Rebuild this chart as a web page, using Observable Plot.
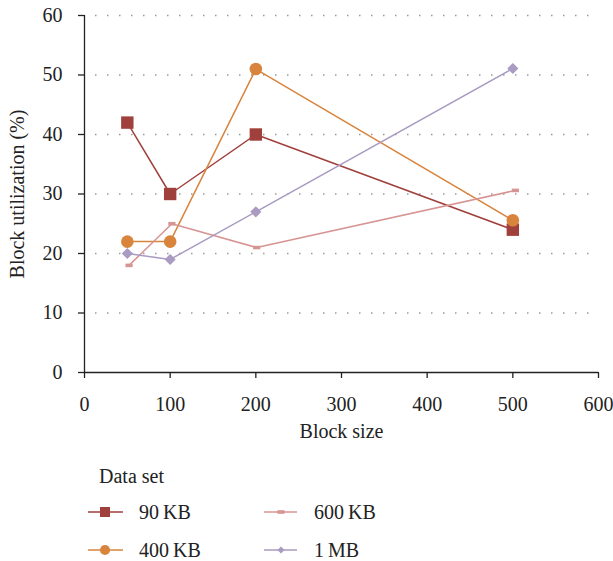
<!DOCTYPE html>
<html><head><meta charset="utf-8">
<script src="https://cdn.jsdelivr.net/npm/d3@7"></script>
<script src="https://cdn.jsdelivr.net/npm/@observablehq/plot@0.6"></script>
<style>body{margin:0;background:#fff;} svg{display:block}</style>
</head><body><div id="chart"></div><script>
const blockSizes = [50, 100, 200, 500];
const blockSizes600KB = [52, 102, 201, 503];
const seriesNames = ["90\u2009KB", "400\u2009KB", "600\u2009KB", "1\u2009MB"];
const util90KB = [42, 30, 40, 24];
const util400KB = [22, 22, 51, 25.6];
const util600KB = [18, 25, 21, 30.6];
const util1MB = [20, 19, 27, 51.1];
const seriesColors = ["#a0403d", "#d8843c", "#d69593", "#a99bc1"];
const xTicks = [0, 100, 200, 300, 400, 500, 600];
const yTicks = [0, 10, 20, 30, 40, 50, 60];
const gridTicks = [10, 20, 30, 40, 50, 60];
const xLabel = "Block size";
const yLabel = "Block utilization (%)";
const legendTitle = "Data set";

const dashSymbol = {draw(ctx, size) { const w = 3.6, h = 1.8; ctx.moveTo(-w, -h); ctx.lineTo(w, -h); ctx.lineTo(w, h); ctx.lineTo(-w, h); ctx.closePath(); }};
const seriesSymbols = [d3.symbolSquare, d3.symbolCircle, dashSymbol, d3.symbolDiamond2];
const plotRadius = [7, 6.3, 3, 5];

const seriesX = [blockSizes, blockSizes, blockSizes600KB, blockSizes];
const seriesY = [util90KB, util400KB, util600KB, util1MB];
const rows = [];
seriesNames.forEach((s, i) => seriesY[i].forEach((v, j) => rows.push({series: s, x: seriesX[i][j], y: v})));

const font = "'Liberation Serif', 'DejaVu Serif', serif";
const ink = "#222";
const fs = 20;

const plot = Plot.plot({
  width: 613, height: 460,
  marginLeft: 84, marginRight: 15, marginTop: 15, marginBottom: 88,
  style: {fontFamily: font, fontSize: fs + "px", color: ink, background: "#fff", overflow: "visible"},
  x: {domain: [0, 600]},
  y: {domain: [0, 60]},
  color: {domain: seriesNames, range: seriesColors},
  symbol: {domain: seriesNames, range: seriesSymbols},
  marks: [
    Plot.ruleY(gridTicks, {stroke: "#9a9a9a", strokeWidth: 1.5, strokeDasharray: "1.5,10.5", strokeDashoffset: 1}),
    Plot.axisX(xTicks, {tickSize: 6, tickPadding: 18, label: null, strokeWidth: 1.3, fontSize: fs}),
    Plot.axisY(yTicks, {tickSize: 6, tickPadding: 16, label: null, strokeWidth: 1.3, fontSize: fs}),
    Plot.ruleX([0], {stroke: ink, strokeWidth: 1.3}),
    Plot.ruleY([0], {stroke: ink, strokeWidth: 1.3}),
    Plot.line(rows, {x: "x", y: "y", z: "series", stroke: "series", strokeWidth: 1.5}),
    ...seriesNames.map((s, i) => Plot.dot(rows.filter(d => d.series === s), {x: "x", y: "y", fill: "series", symbol: "series", r: plotRadius[i], stroke: null})),
    Plot.text([xLabel], {frameAnchor: "bottom", dy: 65, fontSize: fs, fill: ink}),
    Plot.text([yLabel], {frameAnchor: "left", textAnchor: "middle", rotate: -90, dx: -67, fontSize: fs, fill: ink})
  ]
});
document.getElementById("chart").append(plot);

// Legend below the chart
const legend = d3.create("svg").attr("width", 613).attr("height", 101)
  .style("font-family", font).style("font-size", fs + "px").style("display", "block");
legend.append("text").attr("x", 99).attr("y", 23).attr("fill", ink).text(legendTitle);
const legendSizes = [100, 80, 30, 31];
const cols = [{x1: 88, x2: 123, m: 105, t: 139}, {x1: 264, x2: 297, m: 281, t: 314}];
const rowsY = [52, 90];
seriesNames.forEach((s, i) => {
  const c = cols[Math.floor(i / 2)], y = rowsY[i % 2];
  const g = legend.append("g");
  g.append("line").attr("x1", c.x1).attr("x2", c.x2).attr("y1", y).attr("y2", y)
    .attr("stroke", seriesColors[i]).attr("stroke-width", 2).attr("opacity", 0.75);
  g.append("path").attr("transform", `translate(${c.m},${y})`)
    .attr("d", d3.symbol(seriesSymbols[i], legendSizes[i])()).attr("fill", seriesColors[i]);
  g.append("text").attr("x", c.t).attr("y", y).attr("dy", "0.35em").attr("fill", ink).text(s);
});
document.getElementById("chart").append(legend.node());
</script></body></html>
